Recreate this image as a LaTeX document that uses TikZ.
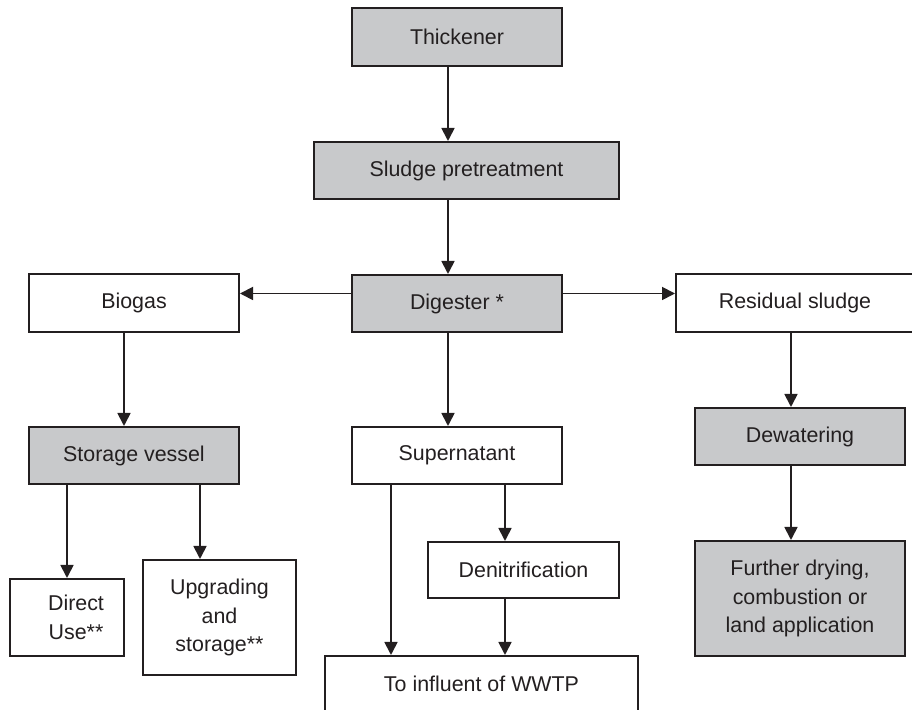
\documentclass[tikz,border=0pt]{standalone}
\usepackage{fontspec}
\setmainfont{Liberation Sans}
\usetikzlibrary{arrows.meta}
\definecolor{boxgray}{RGB}{200,201,203}
\definecolor{inkgray}{RGB}{35,31,32}
\begin{document}
\begin{tikzpicture}[x=0.5pt, y=-0.5pt,
        box/.style={draw=inkgray, line width=1pt, fill=white, text=inkgray, align=center, inner sep=0pt,
            font=\fontsize{10.7}{14.3}\selectfont},
        greybox/.style={box, fill=boxgray},
        arr/.style={draw=inkgray, line width=0.9pt, -{Triangle[length=6.5pt, width=6.5pt]}}]
        \useasboundingbox (0, 0) rectangle (912, 710);
        \clip (0, 0) rectangle (912, 710);
        % boxes
        \node[greybox, minimum width=105pt, minimum height=29pt] (thick) at (457, 37) {Thickener};
        \node[greybox, minimum width=152.5pt, minimum height=28.5pt] (pre) at (466.5, 170.5) {Sludge pretreatment};
        \node[greybox, minimum width=105pt, minimum height=28.5pt] (dig) at (457, 303.5) {Digester *};
        \node[box, minimum width=105pt, minimum height=29pt] (gas) at (134, 303) {Biogas};
        \node[box, minimum width=119pt, minimum height=29pt] (res) at (795, 303) {Residual sludge};
        \node[greybox, minimum width=105pt, minimum height=28.5pt] (store) at (134, 455.5) {Storage vessel};
        \node[box, minimum width=105pt, minimum height=28.5pt] (sup) at (457, 455.5) {Supernatant};
        \node[greybox, minimum width=105pt, minimum height=28.5pt] (dew) at (800, 436.5) {Dewatering};
        \node[box, minimum width=57pt, minimum height=38.5pt] (direct) at (67, 617.5) {\hspace*{9pt}Direct\\\hspace*{9pt}Use**};
        \node[box, minimum width=76.5pt, minimum height=57.5pt] (upg) at (219.5, 617.5) {Upgrading\\and\\storage**};
        \node[box, minimum width=95.5pt, minimum height=28pt] (den) at (523.5, 570) {Denitrification};
        \node[greybox, minimum width=105pt, minimum height=57.5pt] (dry) at (800, 598.5) {Further drying,\\combustion or\\land application};
        \node[box, minimum width=156.5pt, minimum height=28pt] (wwtp) at (481.5, 684) {To influent of WWTP};
        % arrows
        \draw[arr] ([xshift=-4.5pt]thick.south) -- ([xshift=-4.5pt]thick.south |- pre.north);
        \draw[arr] ([xshift=-4.5pt]dig.north |- pre.south) -- ([xshift=-4.5pt]dig.north);
        \draw[arr] ([yshift=5pt]dig.west) -- ([yshift=5pt]dig.west -| gas.east);
        \draw[arr] ([yshift=5pt]dig.east) -- ([yshift=5pt]dig.east -| res.west);
        \draw[arr] ([xshift=-4.5pt]dig.south) -- ([xshift=-4.5pt]dig.south |- sup.north);
        \draw[arr] ([xshift=-5pt]gas.south) -- ([xshift=-5pt]gas.south |- store.north);
        \draw[arr] (direct.north |- store.south) -- (direct.north);
        \draw[arr] ([xshift=-9.75pt]upg.north |- store.south) -- ([xshift=-9.75pt]upg.north);
        \draw[arr] ([xshift=-33pt]sup.south) -- ([xshift=-33pt]sup.south |- wwtp.north);
        \draw[arr] ([xshift=-9.25pt]den.north |- sup.south) -- ([xshift=-9.25pt]den.north);
        \draw[arr] ([xshift=-9.25pt]den.south) -- ([xshift=-9.25pt]den.south |- wwtp.north);
        \draw[arr] ([xshift=-4.5pt]dew.north |- res.south) -- ([xshift=-4.5pt]dew.north);
        \draw[arr] ([xshift=-4.5pt]dew.south) -- ([xshift=-4.5pt]dry.north);
\end{tikzpicture}
\end{document}
